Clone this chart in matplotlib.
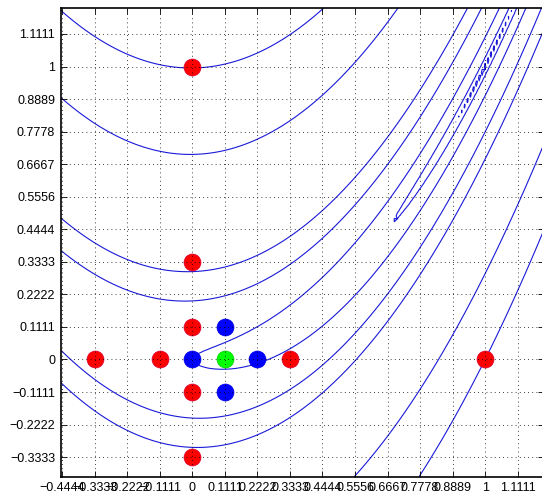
import numpy as np
import matplotlib
matplotlib.use("Agg")
import matplotlib.pyplot as plt

# Contour levels of the Rosenbrock function f = 100(y-x^2)^2 + (1-x)^2
levels = [0.01, 0.1, 1, 5, 10, 50, 100]

# Pattern-search points
red_x = [0, 0, 0, -0.3333, -0.1111, 0.3333, 0, 0, 1]
red_y = [1, 0.3333, 0.1111, 0, 0, 0, -0.1111, -0.3333, 0]
blue_x = [0, 0.1111, 0.2222, 0.1111]
blue_y = [0, 0.1111, 0, -0.1111]
green_x = [0.1111]
green_y = [0]

ticks = [-0.4444, -0.3333, -0.2222, -0.1111, 0, 0.1111, 0.2222, 0.3333,
         0.4444, 0.5556, 0.6667, 0.7778, 0.8889, 1, 1.1111]
tick_labels = ["\u22120.4444", "\u22120.3333", "\u22120.2222", "\u22120.1111", "0",
               "0.1111", "0.2222", "0.3333", "0.4444", "0.5556", "0.6667",
               "0.7778", "0.8889", "1", "1.1111"]
yticks = ticks[1:]
ytick_labels = tick_labels[1:]

plt.rcParams['font.family'] = ['Liberation Sans', 'DejaVu Sans']

fig = plt.figure(figsize=(5.42, 4.95), dpi=100)
ax = fig.add_axes([0.112, 0.037, 0.891, 0.947])

xs = np.arange(-0.45, 1.2001, 0.01)
ys = np.arange(-0.4, 1.2001, 0.01)
X, Y = np.meshgrid(xs, ys)
Z = 100 * (Y - X**2)**2 + (1 - X)**2
ax.contour(X, Y, Z, levels=levels, colors=[(0.1, 0.1, 0.85)], linewidths=0.8, zorder=1)

ms = 12.2
ax.plot(red_x, red_y, 'o', color=(1, 0, 0), markersize=ms, markeredgewidth=0.5,
        markeredgecolor=(0.85, 0, 0.2), zorder=2, linestyle='none')
ax.plot(blue_x, blue_y, 'o', color=(0, 0, 1), markersize=ms, markeredgewidth=0.5,
        markeredgecolor=(0, 0, 0.9), zorder=2, linestyle='none')
ax.plot(green_x, green_y, 'o', color=(0, 1, 0), markersize=ms, markeredgewidth=0.5,
        markeredgecolor=(0, 0.8, 0), zorder=2, linestyle='none')

ax.set_xlim(-0.45, 1.2)
ax.set_ylim(-0.4, 1.2)
ax.set_xticks(ticks)
ax.set_xticklabels(tick_labels)
ax.set_yticks(yticks)
ax.set_yticklabels(ytick_labels)
ax.tick_params(direction='in', length=4, width=0.6, top=True, right=True,
               labelsize=9, pad=4)
ax.grid(True, linestyle=(0, (1, 4)), color='black', linewidth=0.6)
ax.set_axisbelow(False)
for s in ax.spines.values():
    s.set_linewidth(1.2)

fig.savefig("out.png", dpi=100)
